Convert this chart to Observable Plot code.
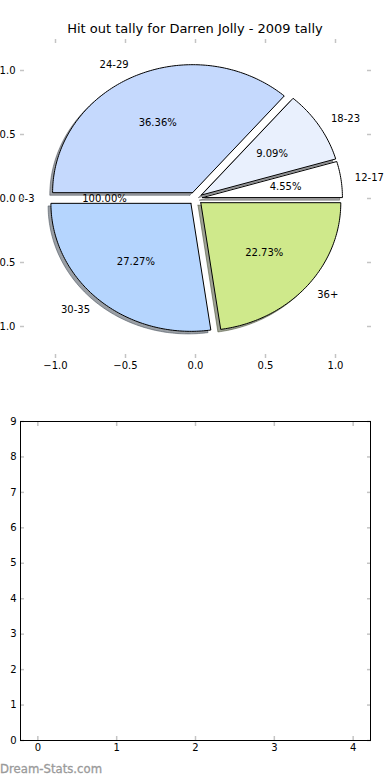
<!DOCTYPE html>
<html>
<head>
<meta charset="utf-8">
<script src="https://cdn.jsdelivr.net/npm/d3@7"></script>
<script src="https://cdn.jsdelivr.net/npm/@observablehq/plot@0.6"></script>
<style>
  html, body { margin: 0; padding: 0; background: #fff; }
  #chart { position: relative; width: 390px; height: 780px; overflow: hidden; background: #fff; font-family: "DejaVu Sans", sans-serif; }
  #title { position: absolute; left: 0; top: 21px; width: 390px; text-align: center; font-size: 13px; color: #000; }
  #mark { position: absolute; left: 0; top: 762px; font-size: 11.7px; color: #9a9a9a; -webkit-text-stroke: 0.3px #9a9a9a; }
</style>
</head>
<body>
<div id="chart">
  <div id="title">Hit out tally for Darren Jolly - 2009 tally</div>
  <div id="mark">Dream-Stats.com</div>
</div>
<script>
// ---- data ----
const ageGroups = ["12-17", "18-23", "24-29", "0-3", "30-35", "36+"];
const hitouts = [1, 2, 8, 0, 6, 5];
const pctText = ["4.55%", "9.09%", "36.36%", "100.00%", "27.27%", "22.73%"];
const sliceColors = ["#ffffff", "#e9f0fd", "#c5d9fd", "#ffffff", "#b5d5fe", "#cfe98b"];
const explode = [0.05, 0.05, 0.05, 0.05, 0.05, 0.05];
const pieTicks = [-1, -0.5, 0, 0.5, 1];
const emptyXTicks = [0, 1, 2, 3, 4];
const emptyYTicks = [0, 1, 2, 3, 4, 5, 6, 7, 8, 9];

// ---- build pie geometry from the values ----
const total = d3.sum(hitouts);
let acc = 0;
const slices = ageGroups.map((g, i) => {
  const t1 = acc / total * 360;
  acc += hitouts[i];
  const t2 = acc / total * 360;
  const tm = (t1 + t2) / 2 * Math.PI / 180;
  const ex = explode[i] * Math.cos(tm), ey = explode[i] * Math.sin(tm);
  return {g, i, t1, t2, tm, ex, ey, value: hitouts[i], color: sliceColors[i], pct: pctText[i]};
});

function darken(c) {
  const r = d3.rgb(c);
  return d3.rgb(r.r * 0.3, r.g * 0.3, r.b * 0.3).formatHex();
}

const wedgePts = [];
const shadowPts = [];
for (const s of slices) {
  if (s.value <= 0) continue;
  const n = Math.max(2, Math.ceil(s.t2 - s.t1) + 1);
  const pts = [[s.ex, s.ey]];
  for (let k = 0; k <= n; k++) {
    const a = (s.t1 + (s.t2 - s.t1) * k / n) * Math.PI / 180;
    pts.push([s.ex + Math.cos(a), s.ey + Math.sin(a)]);
  }
  pts.push([s.ex, s.ey]);
  for (const [x, y] of pts) {
    wedgePts.push({id: s.i, x, y, color: s.color});
    shadowPts.push({id: s.i, x: x - 0.02, y: y - 0.02, color: darken(s.color)});
  }
}

const labelRows = slices.map(s => ({
  text: s.g,
  x: s.ex + 1.1 * Math.cos(s.tm),
  y: s.ey + 1.1 * Math.sin(s.tm),
  left: Math.cos(s.tm) < 0
}));
const pctRows = slices.map(s => ({
  text: s.pct,
  x: s.ex + 0.6 * Math.cos(s.tm),
  y: s.ey + 0.6 * Math.sin(s.tm)
}));

const tickGray = "#c4c4c4";
const fmt1 = d3.format(".1f");

const pie = Plot.plot({
  width: 390,
  height: 380,
  marginTop: 38,
  marginBottom: 22,
  marginLeft: 20,
  marginRight: 20,
  style: {fontFamily: "DejaVu Sans", fontSize: "10px", background: "transparent", overflow: "visible"},
  x: {domain: [-1.25, 1.25], label: null},
  y: {domain: [-1.25, 1.25], label: null},
  color: {type: "identity"},
  marks: [
    Plot.line(shadowPts, {x: "x", y: "y", z: "id", fill: "color", stroke: "color", fillOpacity: 0.5, strokeOpacity: 0.5, strokeWidth: 1, curve: "linear"}),
    Plot.line(wedgePts, {x: "x", y: "y", z: "id", fill: "color", stroke: "black", strokeWidth: 1, curve: "linear"}),
    Plot.text(labelRows.filter(d => !d.left), {x: "x", y: "y", text: "text", textAnchor: "start", fill: "black"}),
    Plot.text(labelRows.filter(d => d.left), {x: "x", y: "y", text: "text", textAnchor: "end", fill: "black"}),
    Plot.text(pctRows, {x: "x", y: "y", text: "text", textAnchor: "middle", fill: "black"}),
    Plot.axisX(pieTicks, {anchor: "bottom", tickSize: 0, tickPadding: 3, tickFormat: fmt1}),
    Plot.axisY(pieTicks, {anchor: "left", tickSize: 0, tickPadding: 5, tickFormat: fmt1}),
    Plot.axisX(pieTicks, {anchor: "top", tickSize: 4, dy: 4, tickFormat: () => "", stroke: tickGray, strokeWidth: 1.5}),
    Plot.axisX(pieTicks, {anchor: "bottom", tickSize: 4, dy: -4, tickFormat: () => "", stroke: tickGray, strokeWidth: 1.5}),
    Plot.axisY(pieTicks, {anchor: "left", tickSize: 4, dx: 4, tickFormat: () => "", stroke: tickGray, strokeWidth: 1.5}),
    Plot.axisY(pieTicks, {anchor: "right", tickSize: 4, dx: -4, tickFormat: () => "", stroke: tickGray, strokeWidth: 1.5})
  ]
});

const empty = Plot.plot({
  width: 390,
  height: 370,
  marginTop: 21,
  marginBottom: 30,
  marginLeft: 20,
  marginRight: 20,
  style: {fontFamily: "DejaVu Sans", fontSize: "10px", background: "transparent", overflow: "visible"},
  x: {domain: [-0.22, 4.22], label: null},
  y: {domain: [0, 9], label: null},
  marks: [
    Plot.axisX(emptyXTicks, {anchor: "top", tickSize: 4, dy: 4, tickFormat: () => "", stroke: tickGray, strokeWidth: 1.5}),
    Plot.axisX(emptyXTicks, {anchor: "bottom", tickSize: 4, dy: -4, tickFormat: () => "", stroke: tickGray, strokeWidth: 1.5}),
    Plot.axisY(emptyYTicks, {anchor: "left", tickSize: 4, dx: 4, tickFormat: () => "", stroke: tickGray, strokeWidth: 1.5}),
    Plot.axisY(emptyYTicks, {anchor: "right", tickSize: 4, dx: -4, tickFormat: () => "", stroke: tickGray, strokeWidth: 1.5}),
    Plot.axisX(emptyXTicks, {anchor: "bottom", tickSize: 0, tickPadding: 3, tickFormat: d3.format("d")}),
    Plot.axisY(emptyYTicks, {anchor: "left", tickSize: 0, tickPadding: 4, tickFormat: d3.format("d")}),
    Plot.frame({stroke: "black", strokeWidth: 1})
  ]
});

const chart = document.getElementById("chart");
pie.style.position = "absolute";
pie.style.left = "0px";
pie.style.top = "0px";
empty.style.position = "absolute";
empty.style.left = "0px";
empty.style.top = "400px";
chart.insertBefore(pie, chart.firstChild);
chart.insertBefore(empty, chart.firstChild);
</script>
</body>
</html>
